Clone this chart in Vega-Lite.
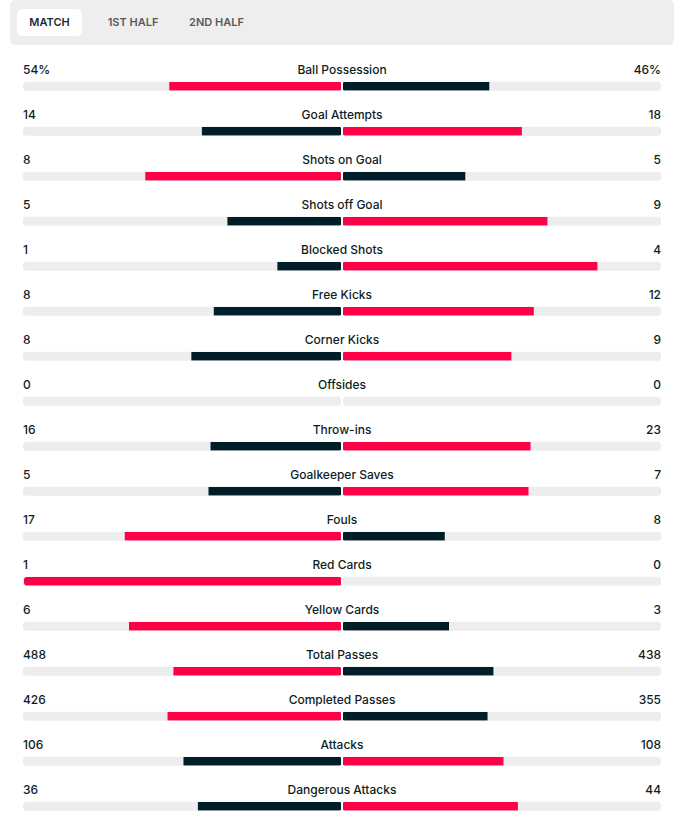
{
  "$schema": "https://vega.github.io/schema/vega-lite/v6.json",
  "background": "#ffffff",
  "padding": {"left": 10, "top": 0, "right": 12, "bottom": 0},
  "spacing": 0,
  "config": {"view": {"stroke": null}, "concat": {"spacing": 0}},
  "vconcat": [
    {
      "width": 664,
      "height": 45,
      "view": {"fill": "#eeeeee", "stroke": null, "cornerRadius": 5},
      "data": {"values": [
        {"tab": "MATCH", "active": true},
        {"tab": "1ST HALF", "active": false},
        {"tab": "2ND HALF", "active": false}
      ]},
      "encoding": {
        "x": {"field": "tab", "type": "nominal", "sort": null, "axis": null,
              "scale": {"type": "point", "padding": 0, "range": [39.5, 206.5], "round": false}}
      },
      "layer": [
        {
          "transform": [{"filter": "datum.active"}],
          "mark": {"type": "point", "filled": true, "color": "#ffffff", "opacity": 1, "strokeWidth": 0, "size": 4225,
                   "shape": "M-0.8154,-0.4154L0.8154,-0.4154Q1,-0.4154 1,-0.2308L1,0.2308Q1,0.4154 0.8154,0.4154L-0.8154,0.4154Q-1,0.4154 -1,0.2308L-1,-0.2308Q-1,-0.4154 -0.8154,-0.4154Z"}
        },
        {
          "mark": {"type": "text", "font": "Inter", "fontSize": 11, "fontWeight": 600, "baseline": "middle", "align": "center"},
          "encoding": {
            "text": {"field": "tab"},
            "color": {"condition": {"test": "datum.active", "value": "#1c2933"}, "value": "#5a5a5a"}
          }
        }
      ]
    },
    {
      "width": 664,
      "height": 783,
      "data": {"values": [
        {"stat": "Ball Possession", "side": "home", "value": 54, "label": "54%"},
        {"stat": "Ball Possession", "side": "away", "value": 46, "label": "46%"},
        {"stat": "Goal Attempts", "side": "home", "value": 14, "label": "14"},
        {"stat": "Goal Attempts", "side": "away", "value": 18, "label": "18"},
        {"stat": "Shots on Goal", "side": "home", "value": 8, "label": "8"},
        {"stat": "Shots on Goal", "side": "away", "value": 5, "label": "5"},
        {"stat": "Shots off Goal", "side": "home", "value": 5, "label": "5"},
        {"stat": "Shots off Goal", "side": "away", "value": 9, "label": "9"},
        {"stat": "Blocked Shots", "side": "home", "value": 1, "label": "1"},
        {"stat": "Blocked Shots", "side": "away", "value": 4, "label": "4"},
        {"stat": "Free Kicks", "side": "home", "value": 8, "label": "8"},
        {"stat": "Free Kicks", "side": "away", "value": 12, "label": "12"},
        {"stat": "Corner Kicks", "side": "home", "value": 8, "label": "8"},
        {"stat": "Corner Kicks", "side": "away", "value": 9, "label": "9"},
        {"stat": "Offsides", "side": "home", "value": 0, "label": "0"},
        {"stat": "Offsides", "side": "away", "value": 0, "label": "0"},
        {"stat": "Throw-ins", "side": "home", "value": 16, "label": "16"},
        {"stat": "Throw-ins", "side": "away", "value": 23, "label": "23"},
        {"stat": "Goalkeeper Saves", "side": "home", "value": 5, "label": "5"},
        {"stat": "Goalkeeper Saves", "side": "away", "value": 7, "label": "7"},
        {"stat": "Fouls", "side": "home", "value": 17, "label": "17"},
        {"stat": "Fouls", "side": "away", "value": 8, "label": "8"},
        {"stat": "Red Cards", "side": "home", "value": 1, "label": "1"},
        {"stat": "Red Cards", "side": "away", "value": 0, "label": "0"},
        {"stat": "Yellow Cards", "side": "home", "value": 6, "label": "6"},
        {"stat": "Yellow Cards", "side": "away", "value": 3, "label": "3"},
        {"stat": "Total Passes", "side": "home", "value": 488, "label": "488"},
        {"stat": "Total Passes", "side": "away", "value": 438, "label": "438"},
        {"stat": "Completed Passes", "side": "home", "value": 426, "label": "426"},
        {"stat": "Completed Passes", "side": "away", "value": 355, "label": "355"},
        {"stat": "Attacks", "side": "home", "value": 106, "label": "106"},
        {"stat": "Attacks", "side": "away", "value": 108, "label": "108"},
        {"stat": "Dangerous Attacks", "side": "home", "value": 36, "label": "36"},
        {"stat": "Dangerous Attacks", "side": "away", "value": 44, "label": "44"}
      ]},
      "transform": [
        {"joinaggregate": [
          {"op": "min", "field": "value", "as": "mn"},
          {"op": "sum", "field": "value", "as": "tot"}
        ], "groupby": ["stat"]}
      ],
      "encoding": {
        "y": {"field": "stat", "type": "nominal", "sort": null, "axis": null,
              "scale": {"type": "point", "padding": 0.7, "align": 0.654, "round": false}}
      },
      "layer": [
        {
          "transform": [{"filter": "datum.side === 'home'"}],
          "mark": {"type": "bar", "orient": "horizontal", "size": 9, "cornerRadius": 3, "color": "#ededed", "xOffset": -1, "x2Offset": -1},
          "encoding": {
            "x": {"datum": 0, "type": "quantitative", "axis": null, "scale": {"domain": [-1.044025, 1.044025], "reverse": true, "nice": false, "zero": false}},
            "x2": {"datum": 1}
          }
        },
        {
          "transform": [{"filter": "datum.side === 'away'"}],
          "mark": {"type": "bar", "orient": "horizontal", "size": 9, "cornerRadius": 3, "color": "#ededed", "xOffset": 1, "x2Offset": 1},
          "encoding": {
            "x": {"datum": 0, "type": "quantitative", "axis": null, "scale": {"domain": [-1.044025, 1.044025], "nice": false, "zero": false}},
            "x2": {"datum": 1}
          }
        },
        {
          "transform": [{"filter": "datum.tot > 0"}],
          "mark": {"type": "bar", "orient": "horizontal", "size": 9, "cornerRadius": 3, "xOffset": -1, "x2Offset": -1},
          "encoding": {
            "x": {"field": "value", "type": "quantitative", "stack": "normalize", "axis": null,
                  "scale": {"domain": [-1.044025, 1.044025], "reverse": true, "nice": false, "zero": false}},
            "detail": {"field": "side"},
            "order": {"field": "side", "type": "ordinal", "sort": "descending"},
            "color": {"condition": [
              {"test": "datum.side !== 'home'", "value": "transparent"},
              {"test": "datum.value > datum.mn", "value": "#ff0046"}
            ], "value": "#001e28"}
          }
        },
        {
          "transform": [{"filter": "datum.tot > 0"}],
          "mark": {"type": "bar", "orient": "horizontal", "size": 9, "cornerRadius": 3, "xOffset": 1, "x2Offset": 1},
          "encoding": {
            "x": {"field": "value", "type": "quantitative", "stack": "normalize", "axis": null,
                  "scale": {"domain": [-1.044025, 1.044025], "nice": false, "zero": false}},
            "detail": {"field": "side"},
            "order": {"field": "side", "type": "ordinal", "sort": "ascending"},
            "color": {"condition": [
              {"test": "datum.side !== 'away'", "value": "transparent"},
              {"test": "datum.value > datum.mn", "value": "#ff0046"}
            ], "value": "#001e28"}
          }
        },
        {
          "transform": [{"filter": "datum.side === 'home'"}],
          "mark": {"type": "text", "font": "Inter", "fontSize": 12, "fontWeight": 500, "align": "left", "baseline": "alphabetic", "dy": -12, "dx": -1, "color": "#0e1d25"},
          "encoding": {
            "x": {"datum": 1, "type": "quantitative", "axis": null, "scale": {"domain": [-1.044025, 1.044025], "reverse": true, "nice": false, "zero": false}},
            "text": {"field": "label"}
          }
        },
        {
          "transform": [{"filter": "datum.side === 'away'"}],
          "mark": {"type": "text", "font": "Inter", "fontSize": 12, "fontWeight": 500, "align": "right", "baseline": "alphabetic", "dy": -12, "dx": 1, "color": "#0e1d25"},
          "encoding": {
            "x": {"datum": 1, "type": "quantitative", "axis": null, "scale": {"domain": [-1.044025, 1.044025], "nice": false, "zero": false}},
            "text": {"field": "label"}
          }
        },
        {
          "transform": [{"filter": "datum.side === 'home'"}],
          "mark": {"type": "text", "font": "Inter", "fontSize": 12, "fontWeight": 500, "align": "center", "baseline": "alphabetic", "dy": -12, "color": "#0e1d25"},
          "encoding": {
            "x": {"datum": 0, "type": "quantitative", "axis": null, "scale": {"domain": [-1.044025, 1.044025], "nice": false, "zero": false}},
            "text": {"field": "stat"}
          }
        }
      ],
      "resolve": {"scale": {"x": "independent"}}
    }
  ]
}
